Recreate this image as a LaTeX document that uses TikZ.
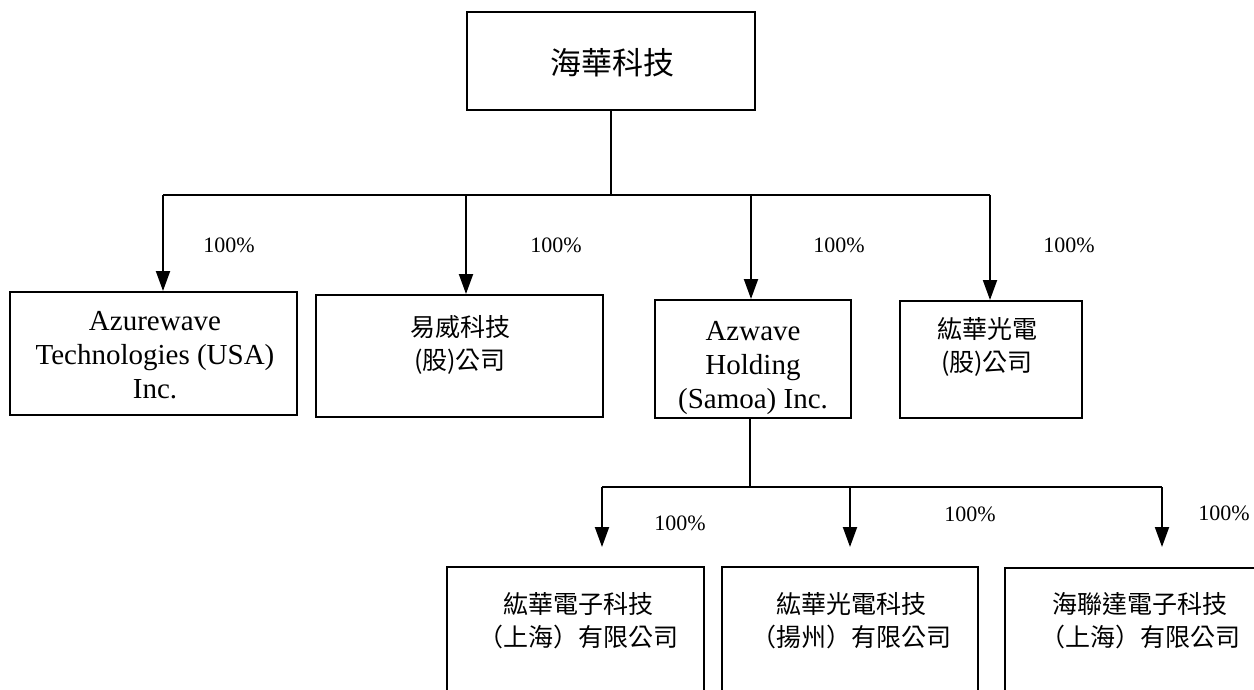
\documentclass[tikz,border=0pt]{standalone}
\usepackage{fontspec}
\setmainfont{Liberation Serif}
\newfontfamily\cjk{Noto Sans CJK TC}
\usetikzlibrary{arrows.meta}
\begin{document}
\begin{tikzpicture}[x=0.5pt,y=-0.5pt,
  box/.style={draw, line width=1pt, inner sep=0pt},
  conn/.style={line width=1pt},
  arr/.style={conn,-{Triangle[width=7pt,length=10pt]}},
  pct/.style={font=\fontsize{11}{13}\selectfont, inner sep=0pt},
  en/.style={font=\fontsize{14.5}{17}\selectfont, align=center, inner sep=0pt},
  zh/.style={font=\cjk\fontsize{12.5}{16.5}\selectfont, align=center, inner sep=0pt},
]
\useasboundingbox (0,0) rectangle (1254,690);
\clip (0,0) rectangle (1254,690);

% boxes
\node[box, minimum width=144pt, minimum height=49pt] (top) at (611,61) {};
\node[box, minimum width=143.5pt, minimum height=61.5pt] (b1) at (153.5,353.5) {};
\node[box, minimum width=143.5pt, minimum height=61pt] (b2) at (459.5,356) {};
\node[box, minimum width=98pt, minimum height=59pt] (b3) at (753,359) {};
\node[box, minimum width=91pt, minimum height=58.5pt] (b4) at (991,359.5) {};
\node[box, minimum width=128.5pt, minimum height=76.5pt] (c1) at (575.5,643.5) {};
\node[box, minimum width=128pt, minimum height=76.5pt] (c2) at (850,643.5) {};
\node[box, minimum width=128.5pt, minimum height=76.5pt] (c3) at (1133.5,644) {};

% texts
\node[zh, font=\cjk\fontsize{15.5}{18}\selectfont] (ttop) at (612,63) {海華科技};
\node[en] (t1) at (155,355) {Azurewave\\Technologies (USA)\\Inc.};
\node[zh] (t2) at (460,345) {易威科技\\(股)公司};
\node[en] (t3) at (753,368) {Azwave\\Holding\\(Samoa) Inc.};
\node[zh] (t4) at (987,347) {紘華光電\\(股)公司};
\node[zh] (t5) at (578,620.5) {紘華電子科技\\（上海）有限公司};
\node[zh] (t6) at (851,620.5) {紘華光電科技\\（揚州）有限公司};
\node[zh] (t7) at (1140,620.5) {海聯達電子科技\\（上海）有限公司};

% first level connectors
\coordinate (j0) at (611,195);
\coordinate (h1) at (163,195);
\coordinate (h2) at (466,195);
\coordinate (h3) at (751,195);
\coordinate (h4) at (990,195);
\draw[conn] (top.south) -- (j0);
\draw[conn] (h1) -- (h4);
\draw[arr] (h1) -- (h1 |- b1.north);
\draw[arr] (h2) -- (h2 |- b2.north);
\draw[arr] (h3) -- (h3 |- b3.north);
\draw[arr] (h4) -- (h4 |- b4.north);

\node[pct] (p1) at (229,245) {100\%};
\node[pct] (p2) at (556,245) {100\%};
\node[pct] (p3) at (839,245) {100\%};
\node[pct] (p4) at (1069,245) {100\%};

% second level connectors
\coordinate (k0) at (750,487);
\coordinate (g1) at (602,487);
\coordinate (g2) at (850,487);
\coordinate (g3) at (1162,487);
\draw[conn] (k0 |- b3.south) -- (k0);
\draw[conn] (g1) -- (g3);
\draw[arr] (g1) -- (602,547);
\draw[arr] (g2) -- (850,547);
\draw[arr] (g3) -- (1162,547);

\node[pct] (p5) at (680,523) {100\%};
\node[pct] (p6) at (970,514) {100\%};
\node[pct] (p7) at (1224,513) {100\%};
\end{tikzpicture}
\end{document}
